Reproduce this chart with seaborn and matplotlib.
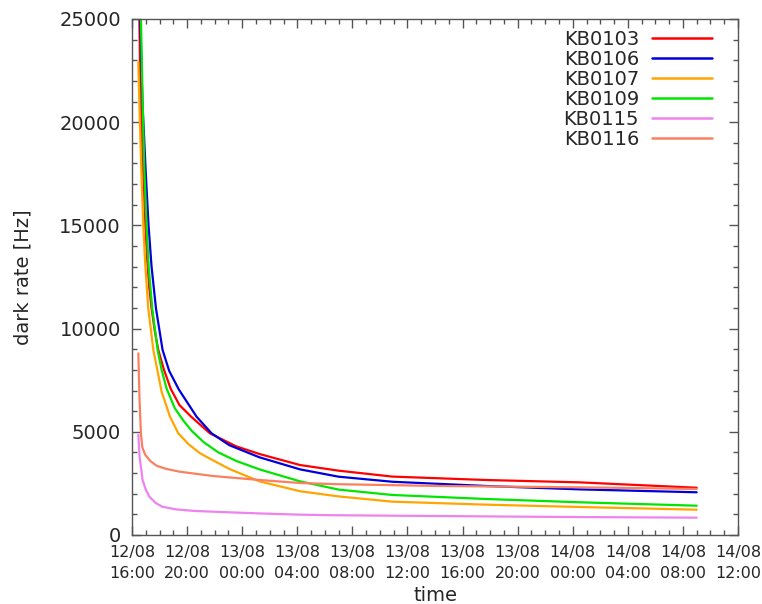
import numpy as np
import pandas as pd
import matplotlib
matplotlib.use("Agg")
import matplotlib.pyplot as plt
import matplotlib.dates as mdates
from matplotlib.ticker import MultipleLocator
import seaborn as sns

# ---- data (hours since 12/08 16:00, dark rate in Hz) ----
START = pd.Timestamp("2015-08-12 16:00")

tubes = ["KB0103", "KB0106", "KB0107", "KB0109", "KB0115", "KB0116"]
colors = ["#ff0000", "#0000dd", "#ffa500", "#00e600", "#ee82ee", "#fa8060"]

kb0103_hours = [0.47, 0.62, 0.82, 0.97, 1.11, 1.25, 1.42, 1.65, 1.91, 2.3, 2.8, 3.44, 4.3, 5.66, 7.55, 9.25,
                12.2, 15.0, 18.9, 25.7, 32.5, 41.0]
kb0103_rate = [28000, 21075, 17500, 15000, 13300, 12000, 10985, 9900, 8965, 8050, 7100, 6300, 5730, 4925, 4300, 3925,
               3390, 3117, 2830, 2665, 2550, 2290]

kb0106_hours = [0.5, 0.6, 0.75, 1.01, 1.2, 1.42, 1.74, 2.22, 2.7, 3.4, 4.69, 5.78, 7.07, 9.25,
                12.2, 15.0, 18.9, 25.7, 32.5, 41.0]
kb0106_rate = [28000, 25000, 21075, 17400, 15000, 13000, 10985, 8965, 7950, 7050, 5730, 4925, 4350, 3765,
               3180, 2825, 2580, 2375, 2210, 2070]

kb0107_hours = [0.46, 0.55, 0.70, 0.82, 0.97, 1.18, 1.55, 2.15, 2.76, 3.36, 4.1, 4.94, 5.85, 7.07,
                9.25, 12.2, 15.0, 18.9, 25.7, 32.5, 41.0]
kb0107_rate = [22900, 20500, 17200, 15000, 13000, 10985, 8965, 6945, 5730, 4925, 4400, 3960, 3630, 3200,
               2600, 2120, 1870, 1615, 1470, 1357, 1225]

kb0109_hours = [0.55, 0.65, 0.77, 0.89, 1.06, 1.21, 1.47, 1.86, 2.15, 2.51, 3.1, 3.72, 4.33, 5.2, 6.27, 7.6,
                9.25, 12.2, 15.0, 18.9, 25.7, 32.5, 41.0]
kb0109_rate = [27000, 25000, 21075, 17845, 15000, 13000, 10985, 8965, 8000, 7100, 6150, 5550, 5050, 4500, 4000, 3580,
               3180, 2600, 2200, 1940, 1745, 1585, 1420]

kb0115_hours = [0.46, 0.55, 0.77, 1.0, 1.26, 1.7, 2.2, 3.2, 4.6, 7.0, 9.5, 12.2, 14.3, 20.0, 31.0, 41.0]
kb0115_rate = [4850, 3800, 2660, 2200, 1860, 1560, 1370, 1240, 1163, 1100, 1040, 985, 960, 930, 875, 840]

kb0116_hours = [0.46, 0.55, 0.65, 0.75, 0.95, 1.3, 1.8, 2.5, 3.44, 5.85, 9.25, 12.2, 15.0, 22.3, 32.5, 41.0]
kb0116_rate = [8800, 6500, 4900, 4250, 3900, 3600, 3350, 3200, 3070, 2860, 2665, 2520, 2460, 2375, 2310, 2230]

y_ticks = [0, 5000, 10000, 15000, 20000, 25000]

series = {
    "KB0103": (kb0103_hours, kb0103_rate),
    "KB0106": (kb0106_hours, kb0106_rate),
    "KB0107": (kb0107_hours, kb0107_rate),
    "KB0109": (kb0109_hours, kb0109_rate),
    "KB0115": (kb0115_hours, kb0115_rate),
    "KB0116": (kb0116_hours, kb0116_rate),
}

rows = []
for name, (hrs, rate) in series.items():
    for h, r in zip(hrs, rate):
        rows.append({"time": START + pd.Timedelta(hours=h), "rate": r, "tube": name})
df = pd.DataFrame(rows)

# ---- plot ----
sns.set_style("ticks")
plt.rcParams["font.family"] = ["DejaVu Sans"]

fig = plt.figure(figsize=(7.62, 6.04), dpi=100)
ax = fig.add_axes([132 / 762, 1 - 535 / 604, 606 / 762, 516 / 604])

sns.lineplot(data=df, x="time", y="rate", hue="tube", hue_order=tubes,
             palette=dict(zip(tubes, colors)), estimator=None, sort=False,
             linewidth=1.6, ax=ax)

ax.set_xlim(START, START + pd.Timedelta(hours=44))
ax.set_ylim(0, 25000)
ax.set_yticks(y_ticks)
ax.yaxis.set_minor_locator(MultipleLocator(1000))
ax.xaxis.set_major_locator(mdates.HourLocator(byhour=range(0, 24, 4)))
ax.xaxis.set_minor_locator(mdates.HourLocator())
ax.xaxis.set_major_formatter(mdates.DateFormatter("%d/%m\n%H:%M"))

for s in ax.spines.values():
    s.set_visible(True)
    s.set_color("#555555")
    s.set_linewidth(1.0)

ax.tick_params(which="both", direction="in", top=True, right=True, color="#555555", width=1.0)
ax.tick_params(which="major", length=6.5)
ax.tick_params(which="minor", length=3.6)
ax.tick_params(axis="y", labelsize=14, pad=8)
ax.tick_params(axis="x", labelsize=11.5, pad=7)

ax.set_xlabel("time", fontsize=14, labelpad=3.5)
ax.set_ylabel("dark rate [Hz]", fontsize=14, labelpad=19)

handles, labels = ax.get_legend_handles_labels()
for h in handles:
    h.set_linewidth(1.8)
ax.legend(handles, labels, loc="upper right", bbox_to_anchor=(0.957, 0.979),
          frameon=False, markerfirst=False, fontsize=14, handlelength=3.1,
          handletextpad=0.65, labelspacing=0.05, borderaxespad=0, borderpad=0)

fig.canvas.draw()
for lbl in ax.get_xticklabels():
    lbl.set_linespacing(1.5)

fig.savefig("out.png", dpi=100)
